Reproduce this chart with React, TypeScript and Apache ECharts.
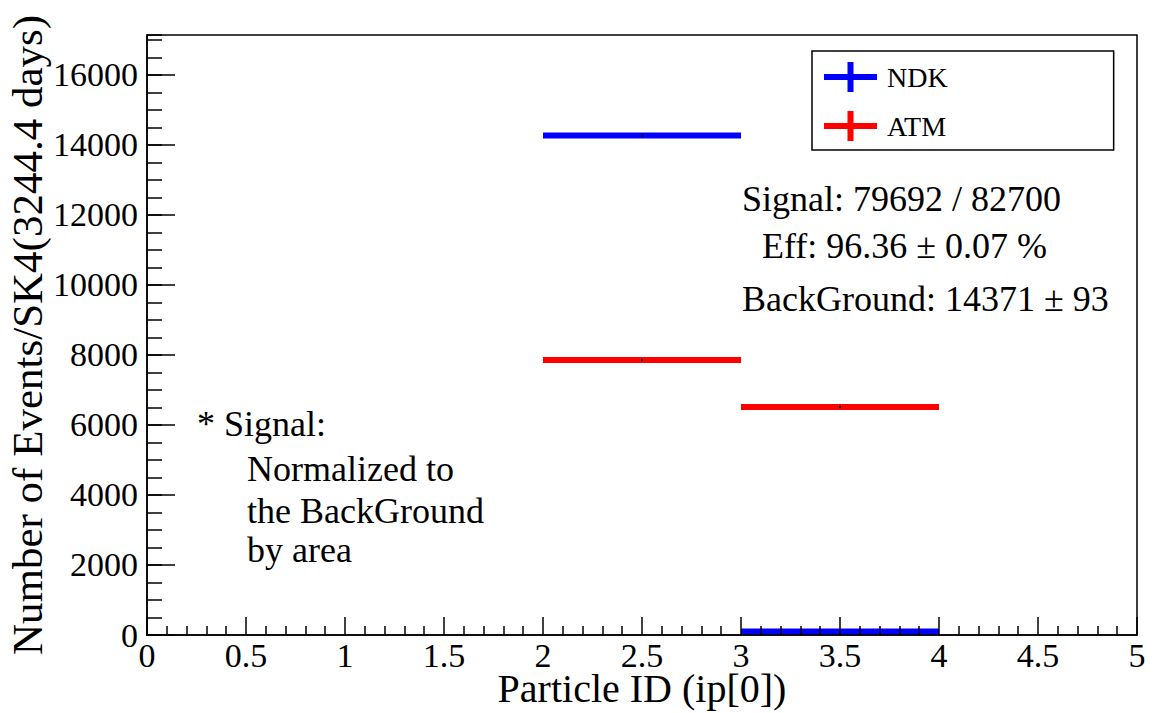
import React, { useEffect, useRef } from "react";
import * as echarts from "echarts";

const binLow = [2, 3];
const binHigh = [3, 4];
const ndkValues = [14271, 100];
const ndkErrors = [50, 6];
const atmValues = [7858, 6513];
const atmErrors = [68, 64];
const seriesNames = ["NDK", "ATM"];
const seriesColors = ["#0000ff", "#ff0000"];
const xTickInterval = 0.5;
const yTickInterval = 2000;
const yMinorInterval = 500;
const yMax = 17140;
const infoLines = ["Signal: 79692 / 82700", "Eff: 96.36 \u00b1 0.07 %", "BackGround: 14371 \u00b1 93"];
const noteLines = ["* Signal:", "Normalized to", "the BackGround", "by area"];

const FONT = "Liberation Serif";

function buildData(values: number[], errors: number[]) {
  return values.map((v, i) => [binLow[i], binHigh[i], v, errors[i]]);
}

function renderHist(color: string) {
  return (params: any, api: any) => {
    const lo = api.value(0);
    const hi = api.value(1);
    const y = api.value(2);
    const e = api.value(3);
    const p0 = api.coord([lo, y]);
    const p1 = api.coord([hi, y]);
    const mid = (lo + hi) / 2;
    const pe0 = api.coord([mid, y - e]);
    const pe1 = api.coord([mid, y + e]);
    return {
      type: "group",
      children: [
        {
          type: "rect",
          shape: { x: p0[0], y: p0[1] - 3, width: p1[0] - p0[0], height: 6 },
          style: { fill: color },
        },
        {
          type: "rect",
          shape: { x: pe0[0] - 2.5, y: pe1[1], width: 5, height: Math.max(pe0[1] - pe1[1], 0) },
          style: { fill: color },
        },
        {
          type: "rect",
          shape: { x: pe0[0] - 1, y: p0[1] - 1, width: 2, height: 2 },
          style: { fill: "#000" },
        },
      ],
    };
  };
}

const crossIcon = "path://M0,12 H53 V18 H0 Z M23.5,0 H29.5 V30 H23.5 Z";

export default function App() {
  const ref = useRef<HTMLDivElement>(null);
  useEffect(() => {
    if (!ref.current) return;
    const chart = echarts.init(ref.current, null, { renderer: "svg" });
    const axisLine = { show: true, lineStyle: { color: "#000", width: 1.5 } };
    const option: any = {
      animation: false,
      backgroundColor: "#fff",
      color: seriesColors,
      textStyle: { fontFamily: FONT },
      grid: {
        left: 147,
        top: 35,
        width: 990,
        height: 600,
        outerBoundsMode: "none",
        containLabel: false,
        show: true,
        borderColor: "#000",
        borderWidth: 1.5,
        backgroundColor: "transparent",
      },
      legend: {
        orient: "vertical",
        left: 812,
        top: 51,
        padding: [11, 166, 9, 12],
        itemWidth: 53,
        itemHeight: 30,
        itemGap: 19,
        borderColor: "#000",
        borderWidth: 1.5,
        backgroundColor: "#fff",
        textStyle: { fontFamily: FONT, fontSize: 28, color: "#000", padding: [0, 0, 0, 5] },
        data: seriesNames.map((n) => ({ name: n, icon: crossIcon })),
      },
      xAxis: {
        type: "value",
        min: 0,
        max: 5,
        interval: xTickInterval,
        z: 10,
        name: "Particle ID (ip[0])",
        nameLocation: "middle",
        nameGap: 33,
        nameMoveOverlap: false,
        nameTextStyle: { fontFamily: FONT, fontSize: 40, color: "#000" },
        axisLine,
        axisTick: { show: true, inside: true, length: 18, lineStyle: { color: "#000", width: 1.5 } },
        minorTick: { show: true, splitNumber: 5, length: 9, lineStyle: { color: "#000", width: 1.5 } },
        axisLabel: { fontFamily: FONT, fontSize: 34, color: "#000", margin: 5, lineHeight: 30 },
        splitLine: { show: false },
      },
      yAxis: [
        {
          type: "value",
          min: 0,
          max: yMax,
          interval: yMinorInterval,
          position: "left",
          z: 10,
          axisLine,
          axisTick: { show: true, inside: true, length: 15, lineStyle: { color: "#000", width: 1.5 } },
          axisLabel: { show: false },
          splitLine: { show: false },
        },
        {
          type: "value",
          min: 0,
          max: yMax,
          interval: yTickInterval,
          position: "left",
          offset: 0,
          z: 10,
          name: "Number of Events/SK4(3244.4 days)",
          nameLocation: "middle",
          nameGap: 98,
          nameMoveOverlap: false,
          nameTextStyle: { fontFamily: FONT, fontSize: 43, color: "#000" },
          axisLine: { show: false },
          axisTick: { show: true, inside: true, length: 28, lineStyle: { color: "#000", width: 1.5 } },
          axisLabel: {
            fontFamily: FONT,
            fontSize: 34,
            color: "#000",
            margin: 9,
            showMaxLabel: false,
            formatter: (v: number) => (v % yTickInterval === 0 ? String(v) : ""),
          },
          splitLine: { show: false },
        },
      ],
      series: [
        {
          name: seriesNames[0],
          type: "custom",
          itemStyle: { color: seriesColors[0] },
          xAxisIndex: 0,
          yAxisIndex: 0,
          renderItem: renderHist(seriesColors[0]),
          data: buildData(ndkValues, ndkErrors),
          encode: { x: [0, 1], y: 2 },
          z: 3,
        },
        {
          name: seriesNames[1],
          type: "custom",
          itemStyle: { color: seriesColors[1] },
          xAxisIndex: 0,
          yAxisIndex: 0,
          renderItem: renderHist(seriesColors[1]),
          data: buildData(atmValues, atmErrors),
          encode: { x: [0, 1], y: 2 },
          z: 2,
        },
      ],
      graphic: [
        ...infoLines.map((t, i) => ({
          type: "text",
          left: i === 1 ? 762 : 742,
          top: [181, 228, 281][i],
          style: { text: t, fontFamily: FONT, fontSize: 36, fill: "#000" },
          z: 10,
        })),
        ...noteLines.map((t, i) => ({
          type: "text",
          left: i === 0 ? 197 : 247,
          top: [406, 451, 493, 532][i],
          style: { text: t, fontFamily: FONT, fontSize: 36, fill: "#000" },
          z: 10,
        })),
      ],
    };
    chart.setOption(option);
    return () => chart.dispose();
  }, []);
  return (
    <div
      ref={ref}
      style={{ position: "fixed", left: 0, top: 0, width: 1157, height: 713, background: "#fff" }}
    />
  );
}
